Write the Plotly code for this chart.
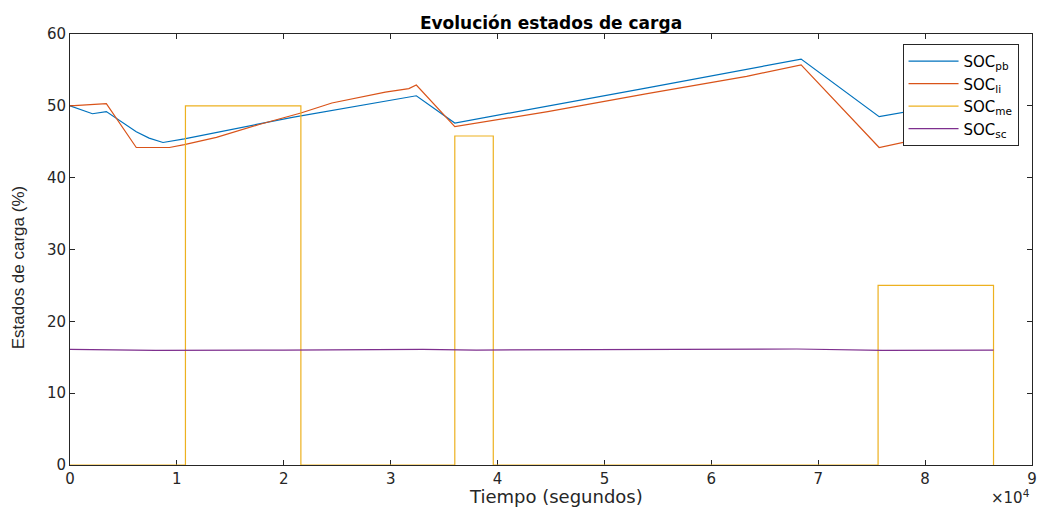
import plotly.graph_objects as go

# Time axis is in seconds; ticks are labelled in units of 1e4 s
t_pb = [0, 1000, 2100, 3400, 6200, 7400, 8400, 8700, 10700, 20800, 32400,
        36000, 54000, 68400, 75700, 86400]
soc_pb = [50.0, 49.5, 48.9, 49.2, 46.4, 45.5, 45.0, 44.9, 45.4, 48.4, 51.4,
          47.6, 52.5, 56.5, 48.5, 51.3]

t_li = [0, 3400, 6200, 9300, 10700, 13700, 17700, 21600, 24500, 27000, 29500,
        31700, 32400, 36000, 44700, 54000, 58700, 63300, 68400, 75700, 79800, 86400]
soc_li = [50.0, 50.3, 44.2, 44.2, 44.6, 45.6, 47.4, 49.0, 50.4, 51.1, 51.9,
          52.4, 52.9, 47.1, 49.2, 51.7, 52.9, 54.1, 55.7, 44.2, 45.5, 47.6]

t_me = [0, 10800, 21600, 36000, 39600, 75600, 86400]
soc_me = [0, 50, 0, 45.8, 0, 25, 0]

t_sc = [0, 5000, 8000, 20000, 33000, 38000, 55000, 68000, 76000, 86400]
soc_sc = [16.1, 16.05, 15.95, 16.0, 16.1, 16.0, 16.05, 16.15, 15.95, 16.0]

x_ticks = [0, 1, 2, 3, 4, 5, 6, 7, 8, 9]
y_ticks = [0, 10, 20, 30, 40, 50, 60]

AXIS_COLOR = "#262626"
WIDE = "DejaVu Sans, Verdana, sans-serif"
NARROW = "Liberation Sans, Arial, sans-serif"

fig = go.Figure()
fig.add_trace(go.Scatter(x=t_pb, y=soc_pb, mode="lines", name="SOC<sub>pb</sub>",
                         line=dict(color="#0072BD", width=1.2)))
fig.add_trace(go.Scatter(x=t_li, y=soc_li, mode="lines", name="SOC<sub>li</sub>",
                         line=dict(color="#D95319", width=1.2)))
fig.add_trace(go.Scatter(x=t_me, y=soc_me, mode="lines", name="SOC<sub>me</sub>",
                         line=dict(color="#EDB120", width=1.2, shape="hv")))
fig.add_trace(go.Scatter(x=t_sc, y=soc_sc, mode="lines", name="SOC<sub>sc</sub>",
                         line=dict(color="#7E2F8E", width=1.2)))

axis_common = dict(showgrid=False, zeroline=False, showline=True, linecolor=AXIS_COLOR,
                   linewidth=1, mirror="ticks", ticks="inside", ticklen=5,
                   tickcolor=AXIS_COLOR, layer="below traces",
                   tickfont=dict(family=WIDE, size=15, color=AXIS_COLOR))

fig.update_layout(
    width=1043, height=509,
    margin=dict(l=70, r=6, t=34, b=44),
    paper_bgcolor="white", plot_bgcolor="white",
    font=dict(family=WIDE, color=AXIS_COLOR),
    title=dict(text="<b>Evolución estados de carga</b>", x=0.5, xref="paper",
               y=0.955, yref="container", yanchor="middle",
               font=dict(family=WIDE, size=17, color="black")),
    xaxis=dict(range=[0, 90000], tickvals=[v * 1e4 for v in x_ticks],
               ticktext=[str(v) for v in x_ticks], **axis_common),
    yaxis=dict(range=[0, 60], tickvals=y_ticks, **axis_common),
    legend=dict(x=0.986, y=0.977, xanchor="right", yanchor="top",
                bgcolor="white", bordercolor=AXIS_COLOR, borderwidth=1,
                font=dict(family=WIDE, size=15, color="black"),
                tracegroupgap=0, itemwidth=50),
    showlegend=True,
)

# axis titles
fig.add_annotation(text="Tiempo (segundos)", xref="paper", yref="paper",
                   x=0.5057, y=-0.0742, xanchor="center", yanchor="middle",
                   showarrow=False, font=dict(family=WIDE, size=18, color=AXIS_COLOR))
fig.add_annotation(text="Estados de carga (%)", xref="paper", yref="paper",
                   x=-0.0538, y=0.457, xanchor="center", yanchor="middle",
                   textangle=-90, showarrow=False,
                   font=dict(family=NARROW, size=17, color=AXIS_COLOR))
# exponent of the x tick labels
fig.add_annotation(text="×10<sup>4</sup>", xref="paper", yref="paper",
                   x=1.0, y=-0.101, xanchor="right", yanchor="bottom", showarrow=False,
                   font=dict(family=WIDE, size=15, color=AXIS_COLOR))

fig.write_html("out.html")
